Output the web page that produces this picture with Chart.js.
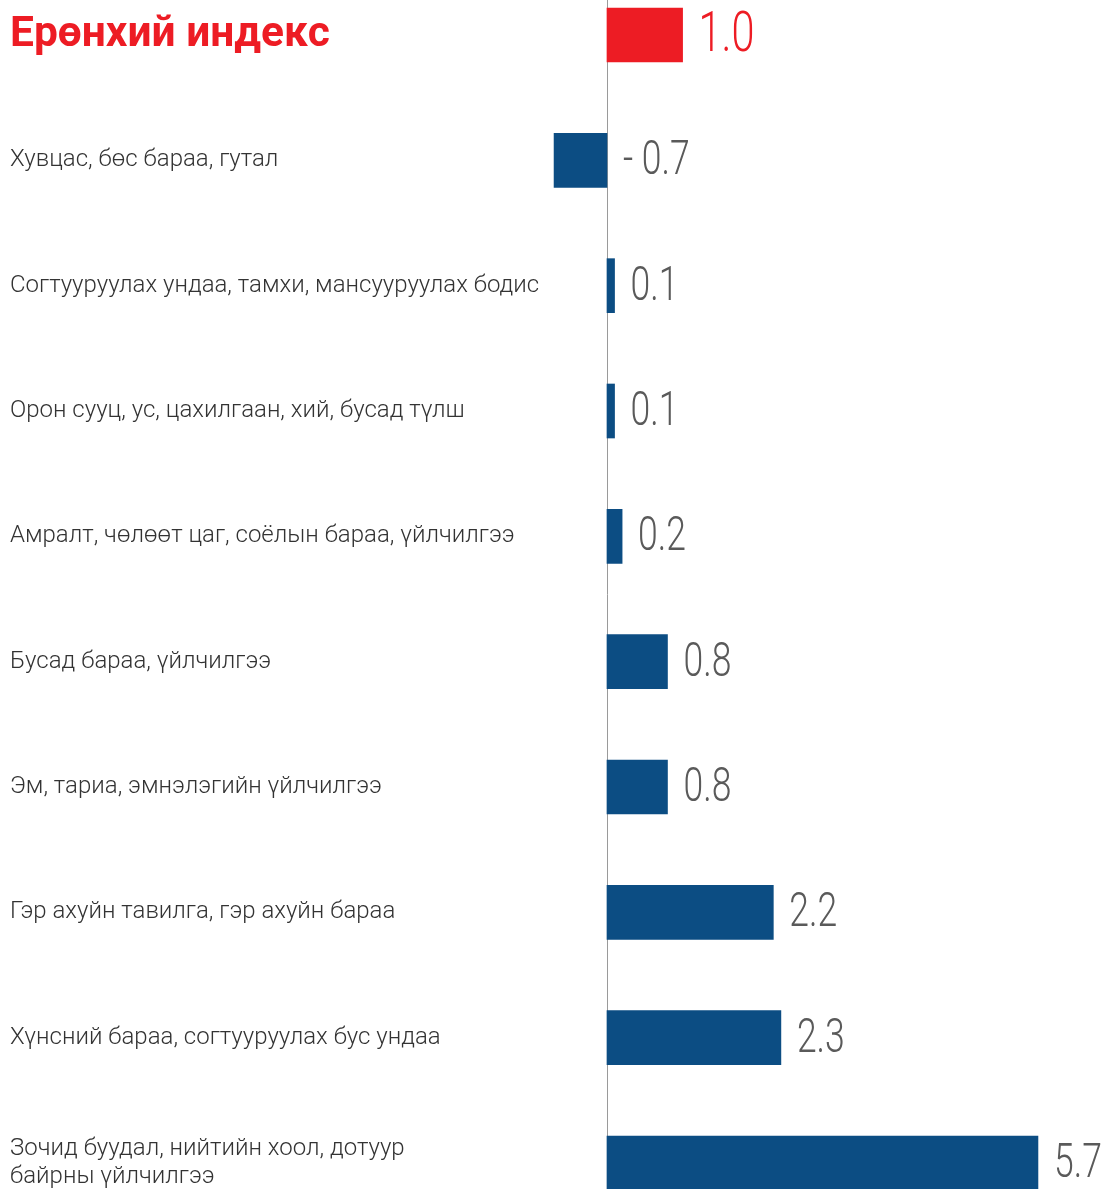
<!DOCTYPE html>
<html>
<head>
<meta charset="utf-8">
<script src="https://cdn.jsdelivr.net/npm/chart.js@4"></script>
<style>
    body { margin: 0; background: #fff; }
    #wrap { width: 1106px; height: 1189px; position: relative; }
</style>
</head>
<body>
<div id="wrap"><canvas id="chart01"></canvas></div>
<script>
const categories = [
    'Ерөнхий индекс',
    'Хувцас, бөс бараа, гутал',
    'Согтууруулах ундаа, тамхи, мансууруулах бодис',
    'Орон сууц, ус, цахилгаан, хий, бусад түлш',
    'Амралт, чөлөөт цаг, соёлын бараа, үйлчилгээ',
    'Бусад бараа, үйлчилгээ',
    'Эм, тариа, эмнэлэгийн үйлчилгээ',
    'Гэр ахуйн тавилга, гэр ахуйн бараа',
    'Хүнсний бараа, согтууруулах бус ундаа',
    ['Зочид буудал, нийтийн хоол, дотуур', 'байрны үйлчилгээ']
];
const values = [1.0, -0.7, 0.1, 0.1, 0.2, 0.8, 0.8, 2.2, 2.3, 5.7];

const RED = '#ed1c24';
const NAVY = '#0c4d83';

// vertical zero line over the whole height
const zeroLine = {
    id: 'zeroLine',
    beforeDatasetsDraw(chart) {
        const x = Math.round(chart.scales.x.getPixelForValue(0)) + 0.5;
        const ctx = chart.ctx;
        ctx.save();
        ctx.strokeStyle = '#9a9a9a';
        ctx.lineWidth = 1;
        ctx.beginPath();
        ctx.moveTo(x, 0);
        ctx.lineTo(x, chart.height);
        ctx.stroke();
        ctx.restore();
    }
};

// value labels, thin and narrow
const valueLabels = {
    id: 'valueLabels',
    afterDatasetsDraw(chart) {
        const ctx = chart.ctx;
        const zero = chart.scales.x.getPixelForValue(0);
        chart.getDatasetMeta(0).data.forEach((bar, i) => {
            const v = values[i];
            const txt = v < 0 ? '- ' + Math.abs(v).toFixed(1) : v.toFixed(1);
            const x = (v < 0 ? zero : bar.x) + 16;
            ctx.save();
            ctx.translate(x, bar.y + 2);
            ctx.scale(0.74, 1);
            ctx.font = (i === 0 ? '300 56px' : '300 48px') + ' Roboto';
            ctx.fillStyle = i === 0 ? RED : '#5a5a5a';
            ctx.textAlign = 'left';
            ctx.textBaseline = 'middle';
            ctx.fillText(txt, 0, 0);
            ctx.restore();
        });
    }
};

new Chart(document.getElementById('chart01'), {
    type: 'bar',
    data: {
        labels: categories,
        datasets: [{
            data: values,
            backgroundColor: values.map((v, i) => i === 0 ? RED : NAVY),
            barThickness: 54,
            clip: false
        }]
    },
    options: {
        indexAxis: 'y',
        responsive: true,
        maintainAspectRatio: false,
        animation: false,
        layout: {
            padding: {top: 35, bottom: 26, left: 10, right: 0}
        },
        plugins: {
            legend: {display: false},
            tooltip: {enabled: false}
        },
        scales: {
            x: {
                display: false,
                min: -0.8,
                max: 6.6
            },
            y: {
                offset: false,
                grid: {display: false},
                border: {display: false},
                afterFit(scale) {
                    scale.width = 536.5;
                },
                ticks: {
                    autoSkip: false,
                    crossAlign: 'far',
                    padding: 0,
                    color: c => c.index === 0 ? RED : '#333333',
                    font: c => c.index === 0
                        ? {family: 'Roboto', size: 42.5, weight: 'bold'}
                        : {family: 'Roboto', size: 24, weight: 300, lineHeight: 1.17}
                }
            }
        }
    },
    plugins: [zeroLine, valueLabels]
});
</script>
</body>
</html>
